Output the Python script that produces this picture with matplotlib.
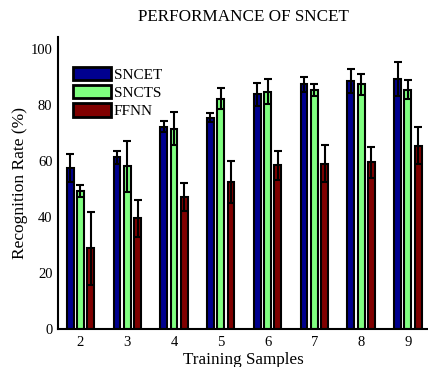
import matplotlib
matplotlib.use("Agg")
import matplotlib.pyplot as plt
import numpy as np

samples = [2, 3, 4, 5, 6, 7, 8, 9]
series_names = ["SNCET", "SNCTS", "FFNN"]
sncet = [57.5, 61.5, 72.3, 75.6, 83.9, 87.5, 88.7, 89.4]
sncet_err = [5.0, 2.3, 2.0, 1.5, 4.2, 2.6, 4.2, 6.1]
sncts = [49.4, 58.2, 71.7, 82.3, 84.9, 85.5, 87.5, 85.5]
sncts_err = [2.0, 9.0, 6.0, 3.8, 4.6, 2.1, 3.8, 3.4]
ffnn = [28.9, 39.6, 47.3, 52.6, 58.5, 59.2, 59.6, 65.5]
ffnn_err = [13.0, 6.5, 5.0, 7.6, 5.3, 6.5, 5.5, 6.6]
yticks = [0, 20, 40, 60, 80, 100]

colors = [(0, 0, 0.5625), (0.5, 1.0, 0.5), (0.5, 0, 0)]

plt.rcParams['font.family'] = ['Liberation Serif', 'DejaVu Serif']

fig = plt.figure(figsize=(4.28, 3.67), dpi=100)
ax = fig.add_axes([58/428, 1 - 329.3/367, 1 - 58/428, (329.3 - 36.7)/367])

x = np.array(samples, dtype=float)
offs = [-0.22, 0.0, 0.22]
width = 0.145
data = [(sncet, sncet_err), (sncts, sncts_err), (ffnn, ffnn_err)]
handles = []
for (vals, errs), off, c, name in zip(data, offs, colors, series_names):
    b = ax.bar(x + off, vals, width, color=c, edgecolor='black', linewidth=1.5,
               label=name, zorder=2)
    ax.errorbar(x + off, vals, yerr=errs, fmt='none', ecolor='black',
                elinewidth=1.5, capsize=3, capthick=1.5, zorder=3)
    handles.append(b)

ax.set_xlim(1.52, 9.43)
ax.set_ylim(0, 104.5)
ax.set_xticks(samples)
ax.set_yticks(yticks)
ax.tick_params(axis='both', length=0, labelsize=10.5)
ax.tick_params(axis='y', pad=4)
ax.tick_params(axis='x', pad=5)
for s in ['top', 'right']:
    ax.spines[s].set_visible(False)
for s in ['left', 'bottom']:
    ax.spines[s].set_linewidth(1.5)

ax.set_title("PERFORMANCE OF SNCET", fontsize=12.3, pad=11)
ax.set_xlabel("Training Samples", fontsize=12.3, labelpad=2)
ax.set_ylabel("Recognition Rate (%)", fontsize=12.5, labelpad=2)

leg = ax.legend(handles=handles, labels=series_names, loc='upper left',
                bbox_to_anchor=(14.5/370, 1 - 30/292.6), borderaxespad=0,
                borderpad=0, frameon=False, fontsize=11, handlelength=2.5,
                handleheight=1.0, labelspacing=0.2, handletextpad=0.2)
for p in leg.get_patches():
    p.set_linewidth(2)

fig.savefig("out.png", dpi=100)
